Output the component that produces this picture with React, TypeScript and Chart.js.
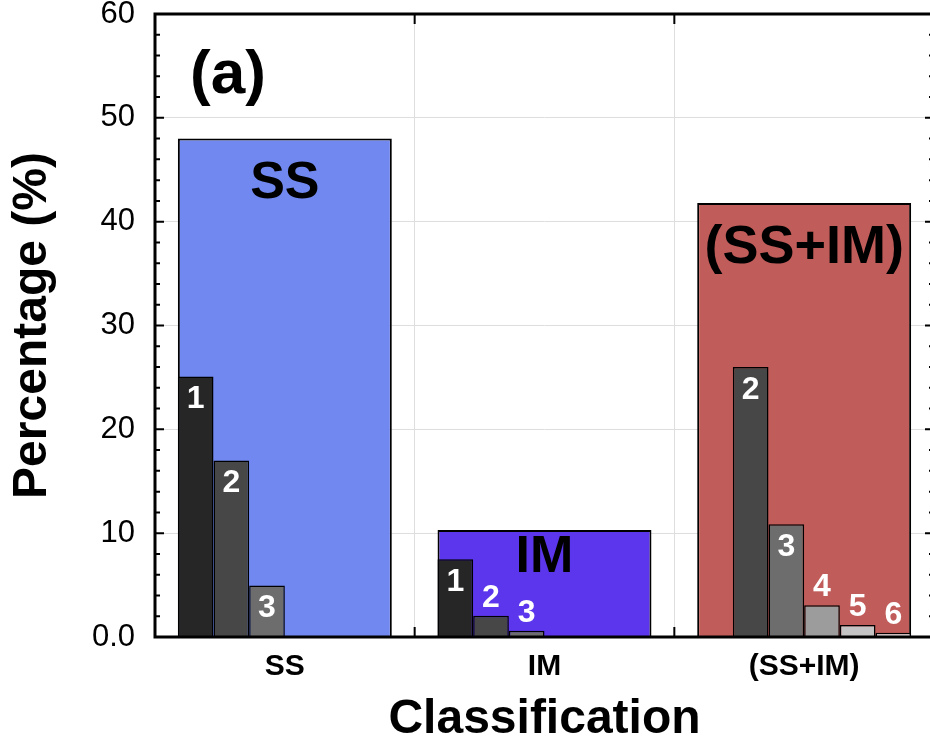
import React, { useEffect, useRef } from 'react';
import { Chart, registerables } from 'chart.js';

Chart.register(...registerables);

// ---- data ----
const categories = ['SS', 'IM', '(SS+IM)'];
const totalValues = [48.0, 10.3, 41.8];
const totalLabels = ['SS', 'IM', '(SS+IM)'];
const subLabels = ['1', '2', '3', '4', '5', '6'];
const sub1 = [25.1, 7.5, null];
const sub2 = [17.0, 2.05, 26.0];
const sub3 = [4.95, 0.6, 10.85];
const sub4 = [null, null, 3.05];
const sub5 = [null, null, 1.15];
const sub6 = [null, null, 0.4];
const yTickValues = [0, 10, 20, 30, 40, 50, 60];
const panelLabel = '(a)';
const yTitle = 'Percentage (%)';
const xTitle = 'Classification';

// ---- styles ----
const totalColors = ['#7088f0', '#5c36ec', '#c05c5a'];
const subColors = ['#262626', '#474747', '#6d6d6d', '#9c9c9c', '#c4c4c4', '#e2e2e2'];
const FONT = '"Liberation Sans", Arial, Helvetica, sans-serif';
const bigLabelOffsets = [45, 28, 45];
const CANVAS_W = 935;
const CANVAS_H = 745;

const framePlugin = {
  id: 'frameAndLabels',
  afterDatasetsDraw(chart: any) {
    const ctx = chart.ctx;
    const area = chart.chartArea;
    const xs = chart.scales.x;
    const ys = chart.scales.y;

    // big labels
    const bigMeta = chart.getDatasetMeta(0);
    ctx.save();
    ctx.fillStyle = '#000';
    ctx.textAlign = 'center';
    ctx.textBaseline = 'middle';
    bigMeta.data.forEach((el: any, i: number) => {
      const size = i === 2 ? 54 : 52;
      ctx.font = `bold ${size}px ${FONT}`;
      ctx.fillText(totalLabels[i], el.x, el.y + bigLabelOffsets[i]);
    });

    // sub labels
    ctx.font = `bold 32px ${FONT}`;
    ctx.fillStyle = '#ffffff';
    for (let d = 1; d <= 6; d++) {
      const meta = chart.getDatasetMeta(d);
      const ds = chart.data.datasets[d];
      meta.data.forEach((el: any, i: number) => {
        const v = ds.data[i];
        if (v === null || v === undefined) return;
        const h = el.base - el.y;
        const y = h > 45 ? el.y + 23 : el.y - 18;
        ctx.fillText(subLabels[d - 1], el.x, y);
      });
    }

    // panel label
    ctx.fillStyle = '#000';
    ctx.font = `bold 62px ${FONT}`;
    ctx.fillText(panelLabel, area.left + 73, area.top + 62);

    // frame
    ctx.strokeStyle = '#000';
    ctx.lineWidth = 3;
    ctx.beginPath();
    ctx.moveTo(area.left, area.bottom);
    ctx.lineTo(area.left, area.top);
    ctx.lineTo(area.right, area.top);
    ctx.lineTo(area.right, area.bottom);
    ctx.closePath();
    ctx.stroke();

    // y ticks (inside, both sides)
    ctx.lineWidth = 2;
    ctx.beginPath();
    for (let v = 0; v <= 60; v += 2) {
      const py = ys.getPixelForValue(v);
      const len = v % 10 === 0 ? 9 : 5;
      ctx.moveTo(area.left, py);
      ctx.lineTo(area.left + len, py);
      ctx.moveTo(area.right, py);
      ctx.lineTo(area.right - len, py);
    }
    // x ticks at category boundaries
    for (let i = 0; i < categories.length - 1; i++) {
      const px = (xs.getPixelForValue(i) + xs.getPixelForValue(i + 1)) / 2;
      ctx.moveTo(px, area.top);
      ctx.lineTo(px, area.top + 10);
      ctx.moveTo(px, area.bottom);
      ctx.lineTo(px, area.bottom - 10);
    }
    ctx.stroke();
    ctx.restore();
  },
};

export default function App() {
  const ref = useRef<HTMLCanvasElement>(null);

  useEffect(() => {
    if (!ref.current) return;
    const subs = [sub1, sub2, sub3, sub4, sub5, sub6];
    const chart = new Chart(ref.current, {
      type: 'bar',
      data: {
        labels: categories,
        datasets: [
          {
            label: 'total',
            data: totalValues,
            backgroundColor: totalColors,
            borderColor: '#000',
            borderWidth: 2,
            grouped: false,
            barPercentage: 0.824,
            categoryPercentage: 1,
            order: 2,
          } as any,
          ...subs.map((arr, k) => ({
            label: subLabels[k],
            data: arr,
            backgroundColor: subColors[k],
            borderColor: '#000',
            borderWidth: 1.5,
            barPercentage: 1,
            categoryPercentage: 0.824,
            order: 1,
          })),
        ],
      },
      options: {
        responsive: false,
        animation: false,
        layout: { padding: { top: 14, right: 1, left: 0, bottom: 0 } },
        plugins: { legend: { display: false }, tooltip: { enabled: false } },
        scales: {
          x: {
            grid: { offset: true, color: '#dedede', lineWidth: 1, drawTicks: false },
            border: { display: false },
            ticks: {
              color: '#000',
              padding: 12,
              font: { family: FONT, size: 30, weight: 'bold' },
            },
            title: {
              display: true,
              text: xTitle,
              color: '#000',
              font: { family: FONT, size: 48, weight: 'bold', lineHeight: 1 },
              padding: { top: 0, bottom: 1 },
            },
            afterFit: (s: any) => {
              s.height = 108;
              s.paddingLeft = 0;
              s.paddingRight = 0;
            },
          },
          y: {
            min: 0,
            max: 60,
            afterBuildTicks: (s: any) => {
              s.ticks = yTickValues.map((v) => ({ value: v }));
            },
            grid: { color: '#dedede', lineWidth: 1, drawTicks: false },
            border: { display: false },
            ticks: {
              color: '#000',
              padding: 20,
              font: { family: FONT, size: 31 },
              callback: (v: any) => (Number(v) === 0 ? '0.0' : String(v)),
            },
            title: {
              display: true,
              text: yTitle,
              color: '#000',
              font: { family: FONT, size: 48, weight: 'bold', lineHeight: 1 },
              padding: { top: 9, bottom: 0 },
            },
            afterFit: (s: any) => {
              s.width = 155;
              s.paddingTop = 0;
              s.paddingBottom = 0;
            },
          },
        },
      },
      plugins: [framePlugin],
    });
    return () => chart.destroy();
  }, []);

  return (
    <div style={{ position: 'absolute', left: 0, top: 0, width: 930, height: 745, background: '#fff', overflow: 'hidden' }}>
      <canvas
        ref={ref}
        width={CANVAS_W}
        height={CANVAS_H}
        style={{ display: 'block', width: CANVAS_W, height: CANVAS_H }}
      />
    </div>
  );
}
